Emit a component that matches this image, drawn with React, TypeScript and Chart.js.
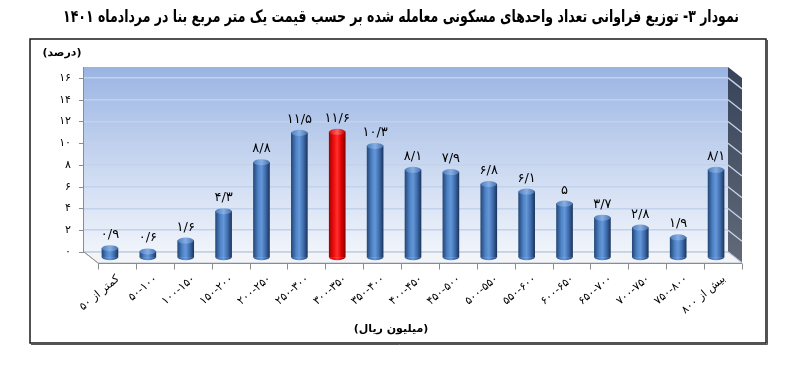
import React, { useEffect, useRef } from 'react';
import { Chart, registerables } from 'chart.js';

Chart.register(...registerables);

const TITLE = 'نمودار ۳- توزیع فراوانی تعداد واحدهای مسکونی معامله شده بر حسب قیمت یک متر مربع بنا در مردادماه ۱۴۰۱';
const Y_TITLE = '(درصد)';
const X_TITLE = '(میلیون ریال)';

const categories = [
  'کمتر از ۵۰',
  '۵۰-۱۰۰',
  '۱۰۰-۱۵۰',
  '۱۵۰-۲۰۰',
  '۲۰۰-۲۵۰',
  '۲۵۰-۳۰۰',
  '۳۰۰-۳۵۰',
  '۳۵۰-۴۰۰',
  '۴۰۰-۴۵۰',
  '۴۵۰-۵۰۰',
  '۵۰۰-۵۵۰',
  '۵۵۰-۶۰۰',
  '۶۰۰-۶۵۰',
  '۶۵۰-۷۰۰',
  '۷۰۰-۷۵۰',
  '۷۵۰-۸۰۰',
  'بیش از ۸۰۰',
];
const values = [0.9, 0.6, 1.6, 4.3, 8.8, 11.5, 11.6, 10.3, 8.1, 7.9, 6.8, 6.1, 5, 3.7, 2.8, 1.9, 8.1];
const highlightIndex = 6;
const yTicks = [0, 2, 4, 6, 8, 10, 12, 14, 16];
const Y_MAX = 17;

// styling / geometry
const DEPTH_X = 14;
const DEPTH_Y = 11;
const SHIFT_X = 7;
const SHIFT_Y = 6;
const BAR_W = 16;
const CAP_RY = 3;
const FONT = '"DejaVu Sans", "Noto Sans", sans-serif';

const toFa = (s: string) =>
  s.replace(/[0-9]/g, (d) => '۰۱۲۳۴۵۶۷۸۹'[Number(d)]).replace('.', '/');

const ok = (...n: number[]) => n.every((v) => Number.isFinite(v));

function bodyGradient(ctx: CanvasRenderingContext2D, cx: number, w: number, red: boolean): any {
  if (!ok(cx, w)) return red ? '#ff0000' : '#4a7fc4';
  const g = ctx.createLinearGradient(cx - w / 2, 0, cx + w / 2, 0);
  if (red) {
    g.addColorStop(0, '#a80000');
    g.addColorStop(0.3, '#f01010');
    g.addColorStop(0.5, '#ff3030');
    g.addColorStop(0.75, '#e00000');
    g.addColorStop(1, '#8a0000');
  } else {
    g.addColorStop(0, '#26497a');
    g.addColorStop(0.3, '#4f84c8');
    g.addColorStop(0.5, '#6497d8');
    g.addColorStop(0.75, '#3f6dae');
    g.addColorStop(1, '#1d375f');
  }
  return g;
}

function capGradient(ctx: CanvasRenderingContext2D, cx: number, w: number, red: boolean): any {
  if (!ok(cx, w)) return red ? '#ff5050' : '#7aa5dc';
  const g = ctx.createLinearGradient(cx - w / 2, 0, cx + w / 2, 0);
  if (red) {
    g.addColorStop(0, '#d01010');
    g.addColorStop(0.5, '#ff6060');
    g.addColorStop(1, '#c00000');
  } else {
    g.addColorStop(0, '#4f7fbf');
    g.addColorStop(0.5, '#86aee3');
    g.addColorStop(1, '#4672b2');
  }
  return g;
}

const scenePlugin = {
  id: 'scene',
  beforeDraw(chart: any) {
    const { ctx, chartArea: a, scales } = chart;
    const y = scales.y;
    ctx.save();
    ctx.fillStyle = '#ffffff';
    ctx.fillRect(0, 0, chart.width, chart.height);

    // title (tall, condensed to fit the reference width)
    ctx.font = `bold 17px ${FONT}`;
    const w = ctx.measureText(TITLE).width || 676;
    const sx = Math.min(1, 676 / w);
    ctx.fillStyle = '#000';
    ctx.textAlign = 'center';
    ctx.textBaseline = 'middle';
    (ctx as any).direction = 'rtl';
    ctx.save();
    ctx.translate(401, 18);
    ctx.scale(sx, 1);
    ctx.fillText(TITLE, 0, 0);
    ctx.restore();
    (ctx as any).direction = 'ltr';

    // frame
    ctx.strokeStyle = '#1a1a1a';
    ctx.lineWidth = 1.5;
    ctx.strokeRect(30, 39, 736, 304);
    ctx.strokeStyle = '#555';
    ctx.lineWidth = 1;
    ctx.beginPath();
    ctx.moveTo(767.5, 40);
    ctx.lineTo(767.5, 344.5);
    ctx.lineTo(31, 344.5);
    ctx.stroke();

    // back wall
    const g = ctx.createLinearGradient(0, a.top, 0, a.bottom);
    g.addColorStop(0, '#9ab4e2');
    g.addColorStop(0.55, '#cbd9f1');
    g.addColorStop(1, '#f0f4fb');
    ctx.fillStyle = g;
    ctx.fillRect(a.left, a.top, a.right - a.left, a.bottom - a.top);

    // side wall
    const sg = ctx.createLinearGradient(0, a.top, 0, a.bottom + DEPTH_Y);
    sg.addColorStop(0, '#36435a');
    sg.addColorStop(1, '#626a78');
    ctx.fillStyle = sg;
    ctx.beginPath();
    ctx.moveTo(a.right, a.top);
    ctx.lineTo(a.right + DEPTH_X, a.top + DEPTH_Y);
    ctx.lineTo(a.right + DEPTH_X, a.bottom + DEPTH_Y);
    ctx.lineTo(a.right, a.bottom);
    ctx.closePath();
    ctx.fill();
    ctx.strokeStyle = '#c9d4e8';
    ctx.lineWidth = 1.3;
    yTicks.forEach((v) => {
      const py = y.getPixelForValue(v);
      ctx.beginPath();
      ctx.moveTo(a.right, py);
      ctx.lineTo(a.right + DEPTH_X, py + DEPTH_Y);
      ctx.stroke();
    });

    // floor
    ctx.fillStyle = '#f2f4f8';
    ctx.beginPath();
    ctx.moveTo(a.left, a.bottom);
    ctx.lineTo(a.right, a.bottom);
    ctx.lineTo(a.right + DEPTH_X, a.bottom + DEPTH_Y);
    ctx.lineTo(a.left + DEPTH_X, a.bottom + DEPTH_Y);
    ctx.closePath();
    ctx.fill();
    ctx.strokeStyle = '#b8c0cc';
    ctx.lineWidth = 1;
    ctx.stroke();
    ctx.restore();
  },
  beforeDatasetDraw(chart: any) {
    chart.ctx.save();
    chart.ctx.translate(SHIFT_X, SHIFT_Y);
  },
  afterDatasetDraw(chart: any, args: any) {
    const ctx = chart.ctx;
    const meta = chart.getDatasetMeta(args.index);
    meta.data.forEach((el: any, i: number) => {
      if (!ok(el.x, el.y, el.base, el.width)) return;
      const red = i === highlightIndex;
      const rx = el.width / 2;
      ctx.fillStyle = bodyGradient(ctx, el.x, el.width, red);
      ctx.beginPath();
      ctx.ellipse(el.x, el.base, rx, CAP_RY, 0, 0, Math.PI);
      ctx.fill();
      ctx.fillStyle = capGradient(ctx, el.x, el.width, red);
      ctx.beginPath();
      ctx.ellipse(el.x, el.y, rx, CAP_RY, 0, 0, Math.PI * 2);
      ctx.fill();
    });
    ctx.restore();
  },
  afterDatasetsDraw(chart: any) {
    const ctx = chart.ctx;
    const meta = chart.getDatasetMeta(0);
    ctx.save();
    ctx.fillStyle = '#000';
    ctx.font = `13px ${FONT}`;
    ctx.textAlign = 'center';
    ctx.textBaseline = 'alphabetic';
    meta.data.forEach((el: any, i: number) => {
      if (!ok(el.x, el.y)) return;
      ctx.fillText(toFa(String(values[i])), el.x + SHIFT_X, el.y + SHIFT_Y - CAP_RY - 7);
    });
    ctx.restore();
  },
  afterDraw(chart: any) {
    const { ctx, chartArea: a, scales } = chart;
    const x = scales.x;
    const y = scales.y;
    ctx.save();
    // y axis line + ticks
    ctx.strokeStyle = '#8c8c8c';
    ctx.lineWidth = 1;
    ctx.beginPath();
    ctx.moveTo(a.left - 0.5, a.top);
    ctx.lineTo(a.left - 0.5, a.bottom);
    ctx.moveTo(a.left, a.bottom);
    ctx.lineTo(a.left + DEPTH_X, a.bottom + DEPTH_Y);
    yTicks.forEach((v) => {
      const py = Math.round(y.getPixelForValue(v)) + 0.5;
      ctx.moveTo(a.left - 5, py);
      ctx.lineTo(a.left, py);
    });
    ctx.stroke();

    ctx.fillStyle = '#000';
    ctx.font = `11px ${FONT}`;
    ctx.textAlign = 'right';
    ctx.textBaseline = 'middle';
    yTicks.forEach((v) => {
      ctx.fillText(toFa(String(v)), a.left - 13, y.getPixelForValue(v));
    });

    // front x axis
    const fy = a.bottom + DEPTH_Y + 0.5;
    ctx.beginPath();
    ctx.moveTo(a.left + DEPTH_X, fy);
    ctx.lineTo(a.right + DEPTH_X, fy);
    for (let k = 0; k <= categories.length; k++) {
      const px = Math.round(x.getPixelForValue(k - 0.5) + DEPTH_X) + 0.5;
      ctx.moveTo(px, fy);
      ctx.lineTo(px, fy + 6);
    }
    ctx.stroke();

    // category labels
    ctx.font = `11px ${FONT}`;
    ctx.textAlign = 'right';
    ctx.textBaseline = 'middle';
    categories.forEach((c, i) => {
      const px = x.getPixelForValue(i) + DEPTH_X + 1;
      ctx.save();
      ctx.translate(px, fy + 14);
      ctx.rotate((-40 * Math.PI) / 180);
      ctx.fillText(c, 0, 0);
      ctx.restore();
    });

    // axis titles
    ctx.font = `bold 11px ${FONT}`;
    ctx.textAlign = 'center';
    ctx.textBaseline = 'middle';
    (ctx as any).direction = 'rtl';
    ctx.fillText(Y_TITLE, 62, 53);
    ctx.fillText(X_TITLE, 391, 329);
    ctx.restore();
  },
};

export default function App() {
  const ref = useRef<HTMLCanvasElement | null>(null);
  useEffect(() => {
    if (!ref.current) return;
    const chart = new Chart(ref.current, {
      type: 'bar',
      data: {
        labels: categories,
        datasets: [
          {
            data: values,
            barThickness: BAR_W,
            clip: false as any,
            backgroundColor: (c: any) => {
              const xs = c.chart.scales?.x;
              const red = c.dataIndex === highlightIndex;
              if (!xs || c.type !== 'data') return red ? '#ff0000' : '#4a7fc4';
              const cx = xs.getPixelForValue(c.dataIndex);
              return bodyGradient(c.chart.ctx, cx, BAR_W, red);
            },
            borderWidth: 0,
          },
        ],
      },
      options: {
        responsive: false,
        devicePixelRatio: 1,
        animation: false,
        layout: { padding: { left: 84, right: 72, top: 67, bottom: 114 } },
        plugins: {
          legend: { display: false },
          tooltip: { enabled: false },
          title: { display: false },
        },
        scales: {
          x: { display: false },
          y: {
            min: 0,
            max: Y_MAX,
            afterBuildTicks: (scale: any) => {
              scale.ticks = yTicks.map((v) => ({ value: v }));
            },
            ticks: { display: false },
            border: { display: false },
            grid: { color: '#c3d2eb', lineWidth: 1.5, drawTicks: false },
          },
        },
      },
      plugins: [scenePlugin],
    });
    return () => chart.destroy();
  }, []);
  return (
    <div style={{ position: 'fixed', left: 0, top: 0, width: 800, height: 366 }}>
      <canvas ref={ref} width={800} height={366} style={{ display: 'block' }} />
    </div>
  );
}
